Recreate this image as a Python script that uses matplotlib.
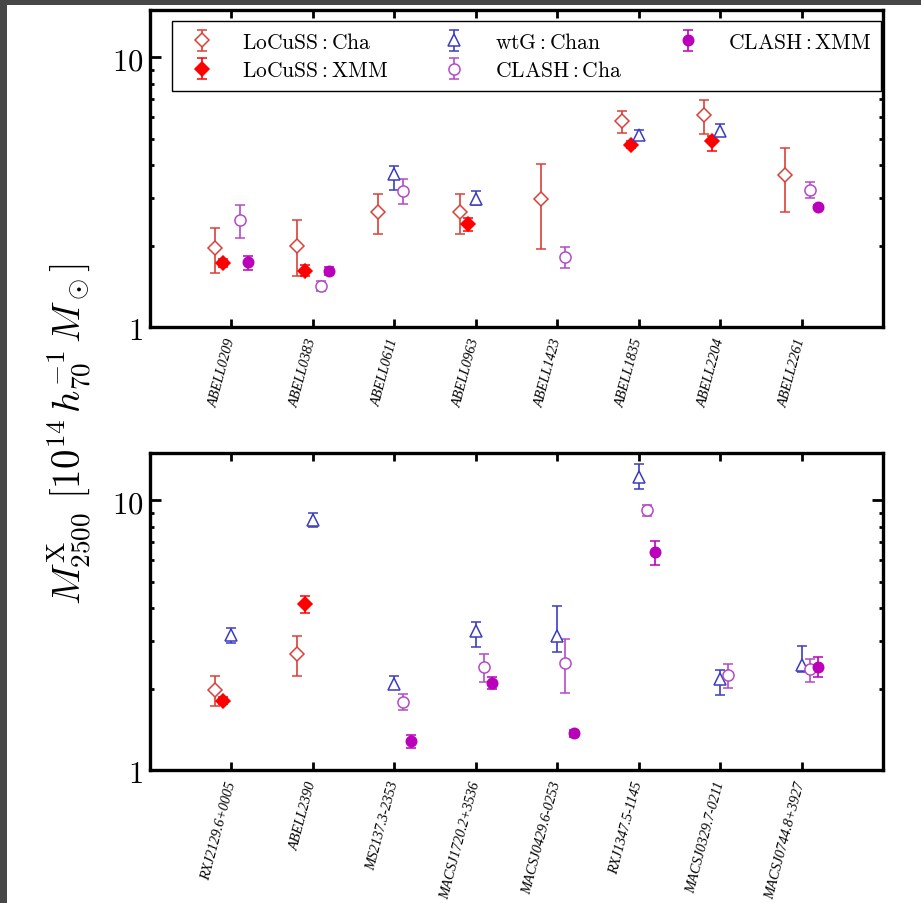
import numpy as np
import matplotlib
matplotlib.use('Agg')
import matplotlib.pyplot as plt
from matplotlib.patches import Rectangle
from matplotlib.ticker import FixedLocator, FixedFormatter, LogLocator, NullFormatter

plt.rcParams['mathtext.fontset'] = 'cm'
plt.rcParams['font.family'] = 'serif'
plt.rcParams['font.serif'] = ['DejaVu Serif']

nan = np.nan

# upper panel: LoCuSS clusters
top_names = ['ABELL0209', 'ABELL0383', 'ABELL0611', 'ABELL0963',
             'ABELL1423', 'ABELL1835', 'ABELL2204', 'ABELL2261']

top_locuss_cha = [1.96, 2.00, 2.68, 2.68, 2.98, 5.79, 6.11, 3.65]
top_locuss_cha_lo = [1.585, 1.54, 2.22, 2.22, 1.945, 5.26, 5.22, 2.66]
top_locuss_cha_hi = [2.33, 2.49, 3.12, 3.12, 4.02, 6.33, 6.97, 4.63]

top_locuss_xmm = [1.72, 1.617, nan, 2.41, nan, 4.75, 4.89, nan]
top_locuss_xmm_lo = [1.67, 1.545, nan, 2.27, nan, 4.60, 4.49, nan]
top_locuss_xmm_hi = [1.78, 1.70, nan, 2.54, nan, 4.90, 5.13, nan]

top_wtg = [nan, nan, 3.69, 2.98, nan, 5.14, 5.35, nan]
top_wtg_lo = [nan, nan, 3.22, 2.83, nan, 4.93, 5.12, nan]
top_wtg_hi = [nan, nan, 3.97, 3.19, nan, 5.38, 5.66, nan]

top_clash_cha = [2.49, 1.42, 3.19, nan, 1.82, nan, nan, 3.23]
top_clash_cha_lo = [2.14, 1.36, 2.85, nan, 1.66, nan, nan, 3.00]
top_clash_cha_hi = [2.83, 1.48, 3.53, nan, 1.98, nan, nan, 3.44]

top_clash_xmm = [1.736, 1.61, nan, nan, nan, nan, nan, 2.78]
top_clash_xmm_lo = [1.63, 1.56, nan, nan, nan, nan, nan, 2.73]
top_clash_xmm_hi = [1.83, 1.67, nan, nan, nan, nan, nan, 2.83]

# lower panel: CLASH clusters
bot_names = ['RXJ2129.6+0005', 'ABELL2390', 'MS2137.3-2353', 'MACSJ1720.2+3536',
             'MACSJ0429.6-0253', 'RXJ1347.5-1145', 'MACSJ0329.7-0211', 'MACSJ0744.8+3927']

bot_locuss_cha = [1.98, 2.69, nan, nan, nan, nan, nan, nan]
bot_locuss_cha_lo = [1.73, 2.24, nan, nan, nan, nan, nan, nan]
bot_locuss_cha_hi = [2.23, 3.15, nan, nan, nan, nan, nan, nan]

bot_locuss_xmm = [1.81, 4.12, nan, nan, nan, nan, nan, nan]
bot_locuss_xmm_lo = [1.76, 3.83, nan, nan, nan, nan, nan, nan]
bot_locuss_xmm_hi = [1.86, 4.42, nan, nan, nan, nan, nan, nan]

bot_wtg = [3.16, 8.43, 2.09, 3.27, 3.14, 12.25, 2.18, 2.46]
bot_wtg_lo = [2.95, 7.98, 1.99, 2.86, 2.75, 10.99, 1.90, 2.31]
bot_wtg_hi = [3.37, 8.97, 2.24, 3.53, 4.05, 13.6, 2.34, 2.88]

bot_clash_cha = [nan, nan, 1.79, 2.41, 2.50, 9.18, 2.25, 2.36]
bot_clash_cha_lo = [nan, nan, 1.675, 2.12, 1.93, 8.77, 2.02, 2.13]
bot_clash_cha_hi = [nan, nan, 1.91, 2.70, 3.07, 9.60, 2.48, 2.59]

bot_clash_xmm = [nan, nan, 1.278, 2.11, 1.369, 6.42, nan, 2.41]
bot_clash_xmm_lo = [nan, nan, 1.21, 2.00, 1.33, 5.78, nan, 2.22]
bot_clash_xmm_hi = [nan, nan, 1.35, 2.22, 1.41, 7.06, nan, 2.62]

labels = [r'$\mathrm{LoCuSS}:\mathrm{Cha}$', r'$\mathrm{LoCuSS}:\mathrm{XMM}$',
          r'$\mathrm{wtG}:\mathrm{Chan}$', r'$\mathrm{CLASH}:\mathrm{Cha}$',
          r'$\mathrm{CLASH}:\mathrm{XMM}$']
offsets = [-0.2, -0.1, 0.0, 0.1, 0.2]
styles = [
    dict(fmt='D', color='#dc4038', mfc='white', ms=7),
    dict(fmt='D', color='#ff0000', mfc='#ff0000', ms=7),
    dict(fmt='^', color='#3c3cc0', mfc='white', ms=8),
    dict(fmt='o', color='#b44ac8', mfc='white', ms=8),
    dict(fmt='o', color='#bb00bb', mfc='#bb00bb', ms=7.5),
]


def draw_series(ax, vals, lo, hi, off, st, label):
    vals = np.array(vals)
    err = np.vstack([vals - np.array(lo), np.array(hi) - vals])
    x = np.arange(1, len(vals) + 1) + off
    ax.errorbar(x, vals, yerr=err, fmt=st['fmt'], color=st['color'],
                mfc=st['mfc'], mec=st['color'], ms=st['ms'], mew=1.1,
                elinewidth=1.2, capsize=3.6, capthick=1.2, label=label)


def style_axis(ax, names):
    ax.set_yscale('log')
    ax.set_ylim(1, 15)
    ax.set_xlim(0, 9)
    ax.set_xticks(np.arange(1, 9))
    ax.set_xticklabels(names, rotation=75, ha='right', va='center',
                       rotation_mode='anchor', fontsize=10.3,
                       family='Liberation Serif', style='italic')
    ax.yaxis.set_major_locator(FixedLocator([1, 10]))
    ax.yaxis.set_major_formatter(FixedFormatter([r'$1$', r'$10$']))
    ax.yaxis.set_minor_locator(LogLocator(subs=np.arange(2, 10)))
    ax.yaxis.set_minor_formatter(NullFormatter())
    ax.tick_params(axis='y', which='major', direction='in', length=8, width=2,
                   labelsize=22, left=True, right=True, pad=5)
    ax.tick_params(axis='y', which='minor', direction='in', length=3, width=2,
                   left=True, right=True)
    ax.tick_params(axis='x', which='major', direction='in', length=6, width=2,
                   top=True, bottom=True, pad=8)
    ax.tick_params(axis='x', which='minor', bottom=False, top=False)
    for s in ax.spines.values():
        s.set_linewidth(2.4)


fig = plt.figure(figsize=(9.21, 9.04), dpi=100)
fig.patch.set_facecolor('#474747')
fig.patches.append(Rectangle((7 / 921, 0), 1, 1 - 6 / 904, transform=fig.transFigure,
                             facecolor='white', edgecolor='none', zorder=-1))

ax1 = fig.add_axes([0.1629, 0.6372, 0.7959, 0.3506])
ax2 = fig.add_axes([0.1629, 0.1471, 0.7959, 0.3507])

top_sets = [(top_locuss_cha, top_locuss_cha_lo, top_locuss_cha_hi),
            (top_locuss_xmm, top_locuss_xmm_lo, top_locuss_xmm_hi),
            (top_wtg, top_wtg_lo, top_wtg_hi),
            (top_clash_cha, top_clash_cha_lo, top_clash_cha_hi),
            (top_clash_xmm, top_clash_xmm_lo, top_clash_xmm_hi)]
bot_sets = [(bot_locuss_cha, bot_locuss_cha_lo, bot_locuss_cha_hi),
            (bot_locuss_xmm, bot_locuss_xmm_lo, bot_locuss_xmm_hi),
            (bot_wtg, bot_wtg_lo, bot_wtg_hi),
            (bot_clash_cha, bot_clash_cha_lo, bot_clash_cha_hi),
            (bot_clash_xmm, bot_clash_xmm_lo, bot_clash_xmm_hi)]

for (v, lo, hi), off, st, lab in zip(top_sets, offsets, styles, labels):
    draw_series(ax1, v, lo, hi, off, st, lab)
for (v, lo, hi), off, st, lab in zip(bot_sets, offsets, styles, labels):
    draw_series(ax2, v, lo, hi, off, st, lab)

style_axis(ax1, top_names)
style_axis(ax2, bot_names)

leg = ax1.legend(ncol=3, loc='upper left', bbox_to_anchor=(0.03, 0.965), fontsize=15.5,
                 frameon=True, fancybox=False, edgecolor='black', framealpha=1,
                 handletextpad=0.95, columnspacing=2.15, borderpad=0.45,
                 labelspacing=0.3, handlelength=1.85, borderaxespad=0)
leg.get_frame().set_linewidth(1.0)

fig.text(0.075, 0.52, r'$M^{\rm X}_{2500}\ [10^{14}\,h_{70}^{-1}\,M_\odot]$',
         rotation=90, ha='center', va='center', fontsize=28)

plt.savefig('out.png', dpi=100, facecolor=fig.get_facecolor())
